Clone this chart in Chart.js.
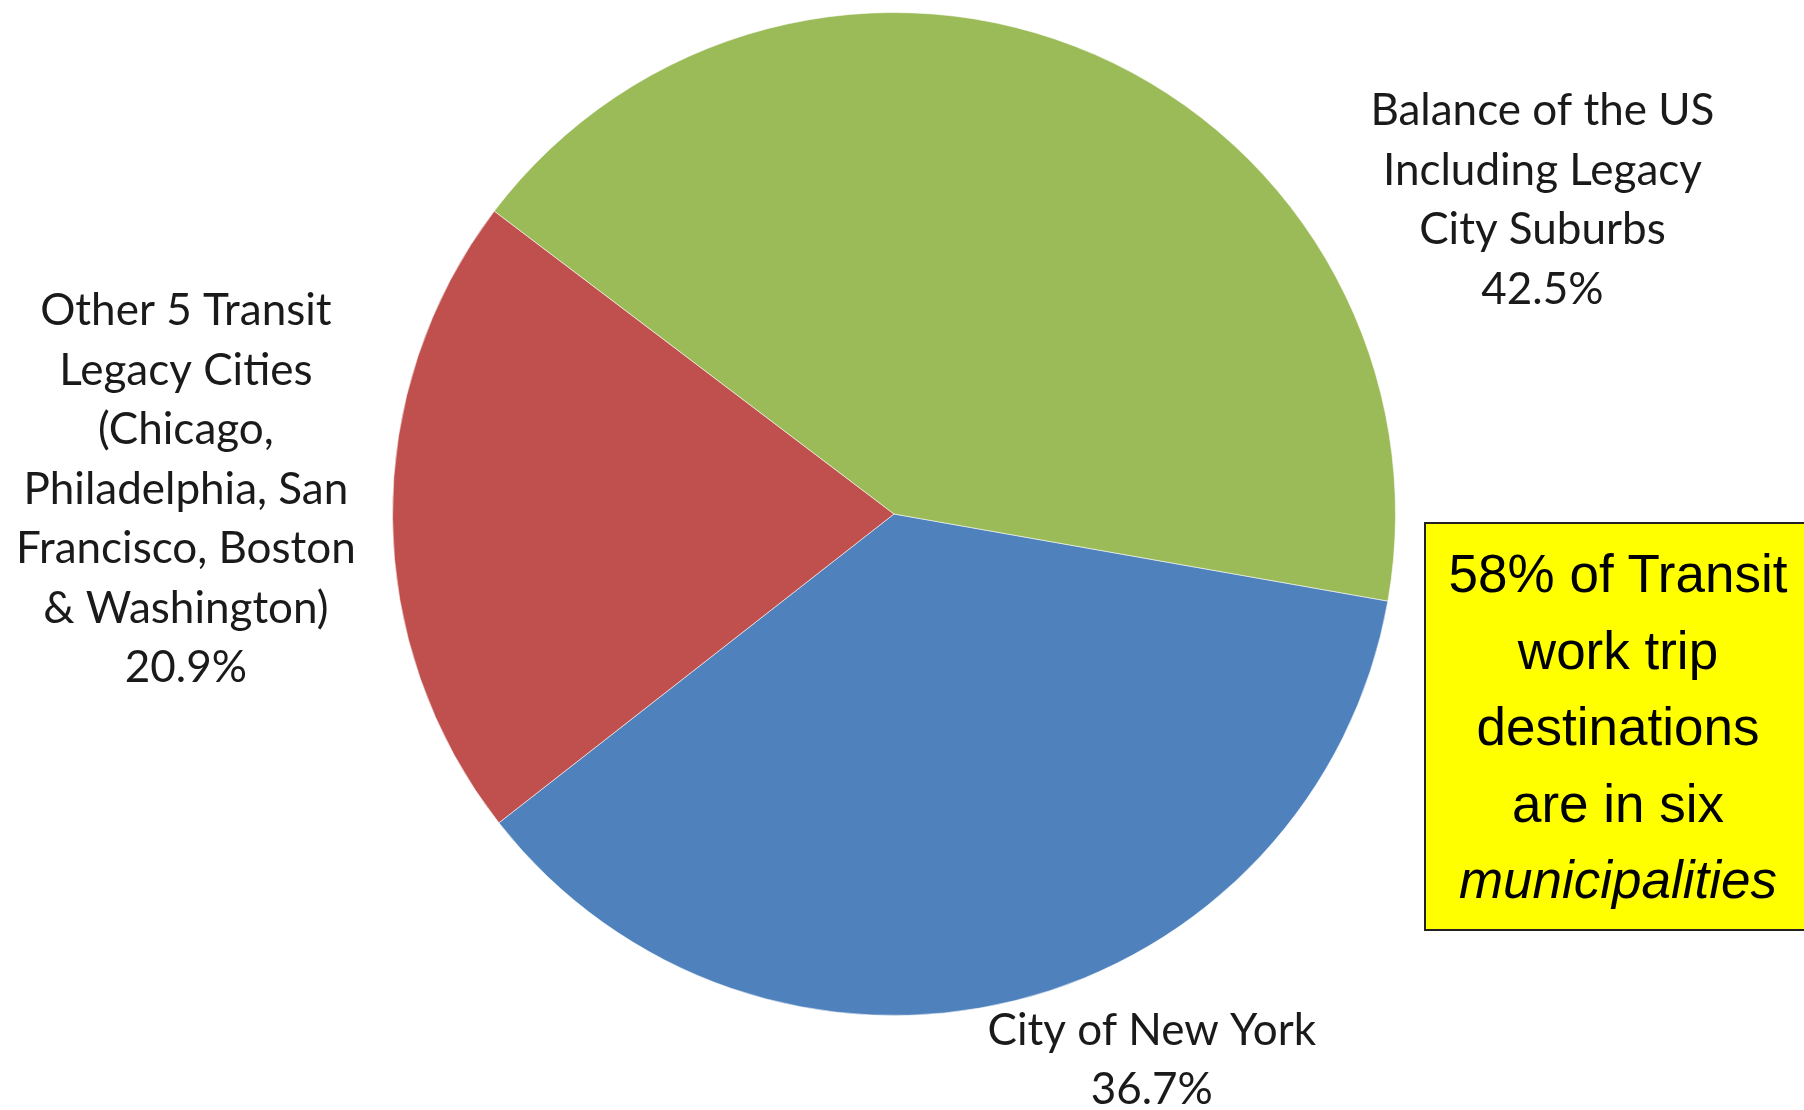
<!DOCTYPE html>
<html>
<head>
<meta charset="utf-8">
<script src="https://cdn.jsdelivr.net/npm/chart.js@4.4.1/dist/chart.umd.min.js"></script>
<style>
  html, body { margin: 0; padding: 0; background: #fff; }
  #wrap { position: relative; width: 1804px; height: 1110px; overflow: hidden; }
  #callout {
    position: absolute; left: 1424px; top: 522px; width: 384px; height: 393px;
    background: #ffff00; border: 2px solid #222;
    font-family: "Liberation Sans", Arial, sans-serif; font-size: 53px;
    line-height: 76.5px; text-align: center; color: #000;
    padding-top: 12px; box-sizing: content-box;
  }
  #callout span { display: block; }
</style>
</head>
<body>
<div id="wrap">
  <canvas id="myChart" width="1804" height="1110"></canvas>
  <div id="callout">
    <span>58% of Transit</span>
    <span>work trip</span>
    <span>destinations</span>
    <span>are in six</span>
    <span><i>municipalities</i></span>
  </div>
</div>
<script>
// share of transit work trip destinations
const categories = [
  "City of New York",
  "Other 5 Transit Legacy Cities (Chicago, Philadelphia, San Francisco, Boston & Washington)",
  "Balance of the US Including Legacy City Suburbs",
];
const shares = [36.7, 20.9, 42.5];
const colors = ["#4f81bd", "#c0504d", "#9bbb59"];

// how each label is broken into lines
const labelLines = [
  ["City of New York"],
  ["Other 5 Transit", "Legacy Cities", "(Chicago,", "Philadelphia, San", "Francisco, Boston", "& Washington)"],
  ["Balance of the US", "Including Legacy", "City Suburbs"],
];
// label anchor relative to the pie centre, in units of the radius
const labelAnchors = [
  [0.514, 1.058],
  [-1.412, -0.376],
  [1.293, -0.775],
];

const labelFont = '44px Lato, "Noto Sans", sans-serif';
const lineHeight = 59.5;

const outsideLabels = {
  id: "outsideLabels",
  afterDraw(chart) {
    const ctx = chart.ctx;
    const meta = chart.getDatasetMeta(0);
    ctx.save();
    ctx.font = labelFont;
    ctx.fillStyle = "#1a1a1a";
    ctx.textAlign = "center";
    ctx.textBaseline = "alphabetic";
    meta.data.forEach((arc, i) => {
      const r = arc.outerRadius;
      const x = arc.x + labelAnchors[i][0] * r;
      let y = arc.y + labelAnchors[i][1] * r;
      const lines = labelLines[i].concat([shares[i].toFixed(1) + "%"]);
      lines.forEach((line) => {
        ctx.fillText(line, x, y);
        y += lineHeight;
      });
    });
    ctx.restore();
  },
};

const ctx = document.getElementById("myChart").getContext("2d");
const myChart = new Chart(ctx, {
  type: "pie",
  data: {
    labels: categories,
    datasets: [
      {
        data: shares,
        backgroundColor: colors,
        borderColor: "rgba(255,255,255,0.55)",
        borderWidth: 1,
      },
    ],
  },
  options: {
    responsive: false,
    devicePixelRatio: 1,
    animation: false,
    rotation: 100,
    layout: { padding: { left: 392, right: 408, top: 12, bottom: 94 } },
    plugins: {
      legend: { display: false },
      tooltip: { enabled: false },
    },
  },
  plugins: [outsideLabels],
});
</script>
</body>
</html>
